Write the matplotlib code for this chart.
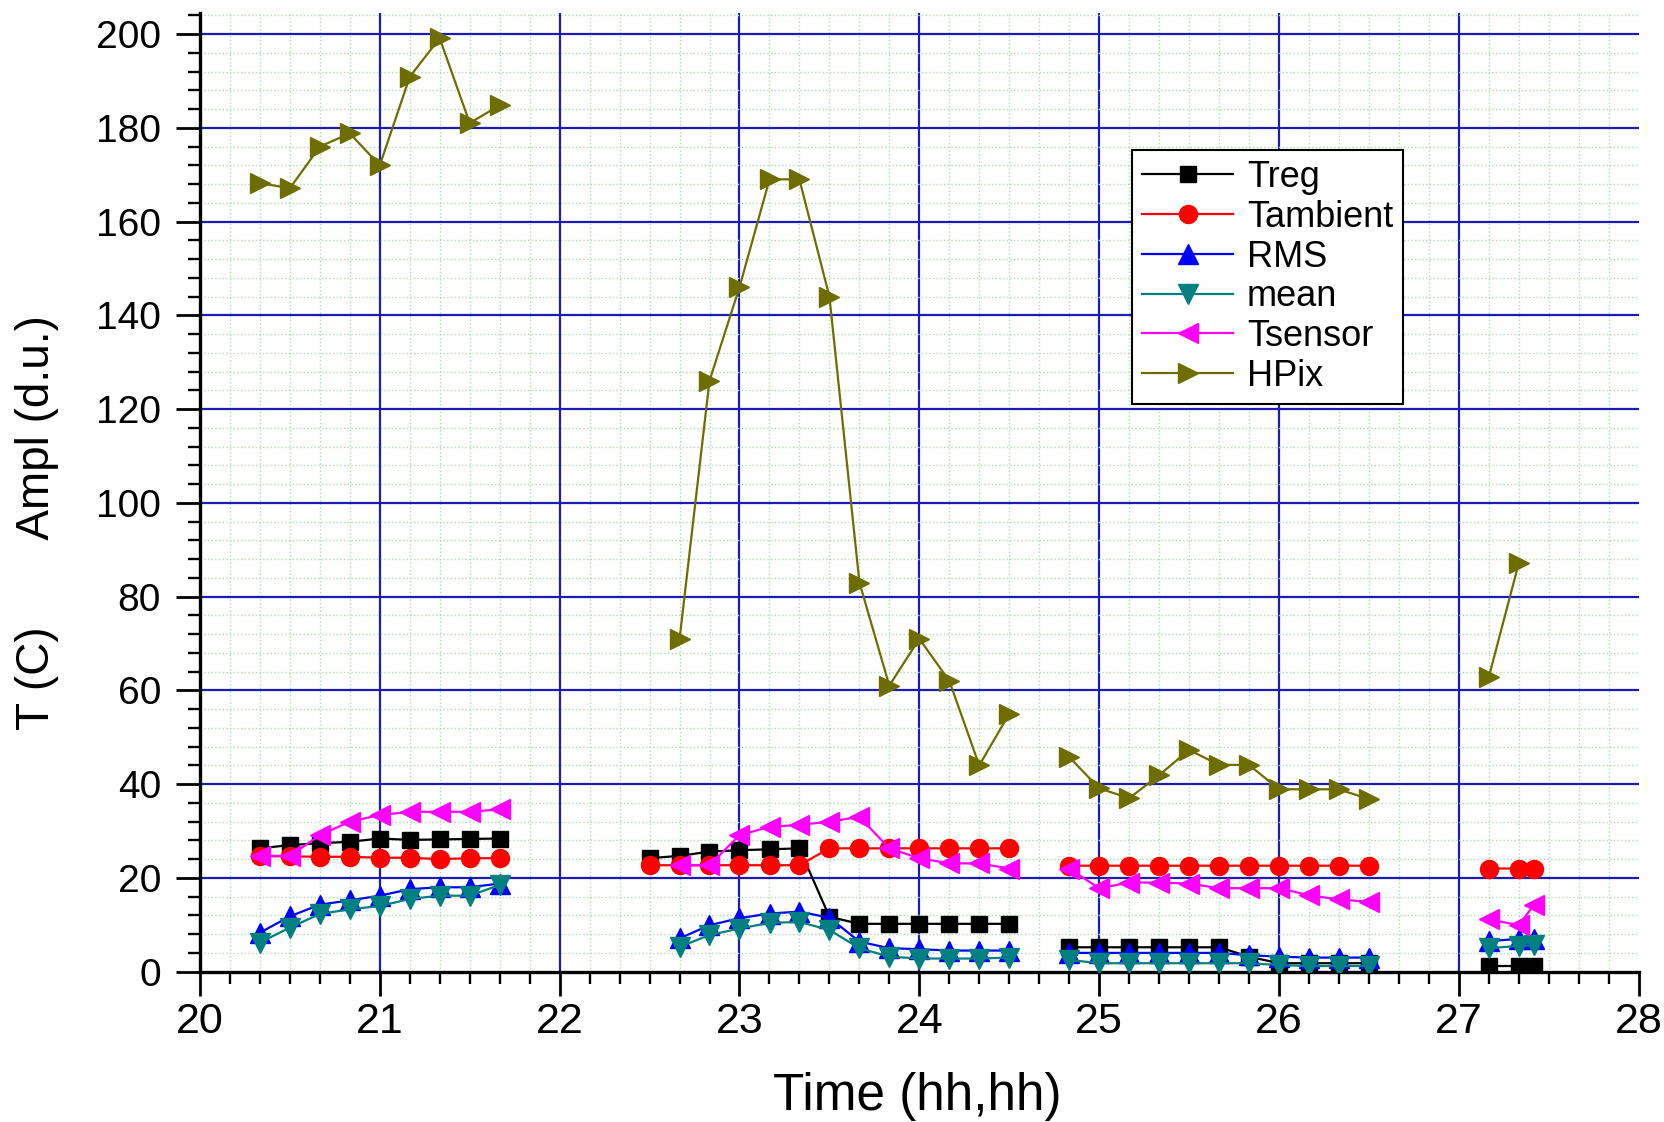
import numpy as np
import matplotlib
matplotlib.use("Agg")
import matplotlib.pyplot as plt
from matplotlib.ticker import MultipleLocator

plt.rcParams['font.family'] = ['Liberation Sans', 'DejaVu Sans']

# time in hours, None separates the measurement runs
time = [20.333, 20.5, 20.667, 20.833, 21.0, 21.167, 21.333, 21.5, 21.667, None,
        22.5, 22.667, 22.833, 23.0, 23.167, 23.333, 23.5, 23.667, 23.833, 24.0, 24.167, 24.333, 24.5, None,
        24.833, 25.0, 25.167, 25.333, 25.5, 25.667, 25.833, 26.0, 26.167, 26.333, 26.5, None,
        27.167, 27.333, 27.417]

treg = [26.3, 27.0, 27.4, 27.7, 28.4, 28.1, 28.2, 28.3, 28.4, None,
        24.2, 24.7, 25.6, 25.9, 26.1, 26.3, 11.7, 10.2, 10.2, 10.2, 10.2, 10.2, 10.2, None,
        5.2, 5.2, 5.2, 5.2, 5.2, 5.2, 3.2, 1.8, 1.8, 1.8, 1.8, None,
        1.2, 1.2, 1.2]

tambient = [24.6, 24.6, 24.5, 24.5, 24.3, 24.3, 24.0, 24.2, 24.2, None,
            22.7, 22.7, 22.7, 22.7, 22.7, 22.7, 26.3, 26.3, 26.3, 26.3, 26.3, 26.3, 26.3, None,
            22.6, 22.6, 22.6, 22.6, 22.6, 22.6, 22.6, 22.6, 22.6, 22.6, 22.6, None,
            22.0, 22.0, 22.0]

rms = [8.3, 11.8, 14.3, 15.2, 16.2, 17.6, 18.0, 18.0, 18.8, None,
       None, 7.1, 9.9, 11.4, 12.4, 12.8, 11.5, 6.4, 5.0, 4.8, 4.5, 4.5, 4.5, None,
       4.0, 4.0, 4.0, 4.0, 4.0, 4.0, 3.5, 3.2, 3.0, 3.0, 3.0, None,
       6.5, 7.0, 7.0]

mean = [6.2, 9.4, 12.3, 13.3, 14.0, 15.5, 16.2, 16.2, 18.5, None,
        None, 5.3, 7.8, 9.2, 10.4, 10.6, 8.9, 5.0, 3.2, 2.8, 2.8, 2.8, 3.0, None,
        2.5, 1.8, 1.8, 1.8, 1.8, 1.8, 1.8, 1.4, 1.2, 1.2, 1.2, None,
        5.0, 5.5, 5.6]

tsensor = [24.7, 24.7, 29.1, 32.0, 33.4, 34.1, 34.1, 34.1, 34.6, None,
           None, 22.7, 22.7, 29.1, 30.9, 31.3, 32.0, 33.0, 26.3, 24.2, 23.1, 23.1, 22.0, None,
           22.0, 17.8, 19.0, 19.0, 18.8, 17.8, 17.8, 17.8, 16.3, 15.4, 14.9, None,
           11.2, 9.9, 14.2]

hpix = [168.2, 167.1, 176.0, 178.8, 172.0, 190.9, 199.1, 181.0, 184.8, None,
        None, 71, 126, 146, 169, 169, 144, 83, 61, 71, 62, 44, 55, None,
        45.8, 39.1, 37.0, 41.9, 47.3, 44.1, 44.1, 38.9, 38.9, 38.9, 36.8, None,
        62.9, 87.1, None]

series = [("Treg", treg, "black", "s", 11),
          ("Tambient", tambient, "#ff0000", "o", 13),
          ("RMS", rms, "#0000ff", "^", 14),
          ("mean", mean, "#008080", "v", 14),
          ("Tsensor", tsensor, "#ff00ff", "<", 14),
          ("HPix", hpix, "#6e6e00", ">", 14)]

t = np.array(time, dtype=float)

fig = plt.figure(figsize=(16.65, 11.22), dpi=100)
ax = fig.add_axes([0.1201, 0.134, 0.8641, 0.8545])

for name, vals, col, mk, ms in series:
    y = np.array(vals, dtype=float)
    ax.plot(t, y, color=col, marker=mk, markersize=ms, markerfacecolor=col,
            markeredgecolor=col, linewidth=1.6, label=name, zorder=3)

ax.set_xlim(20, 28)
ax.set_ylim(0, 204.5)
ax.xaxis.set_major_locator(MultipleLocator(1))
ax.xaxis.set_minor_locator(MultipleLocator(1 / 6))
ax.yaxis.set_major_locator(MultipleLocator(20))
ax.yaxis.set_minor_locator(MultipleLocator(4))

ax.grid(which='minor', color='#b0dcb0', linestyle=':', linewidth=1.0, zorder=0)
ax.grid(which='major', color='#1c1cb4', linestyle='-', linewidth=1.6, zorder=1)
ax.set_axisbelow(True)
fig.canvas.draw()
for gl, v in zip(ax.xaxis.get_gridlines(), ax.get_xticks()):
    if v <= 20 or v >= 28:
        gl.set_visible(False)
for gl, v in zip(ax.yaxis.get_gridlines(), ax.get_yticks()):
    if v <= 0:
        gl.set_visible(False)

for s in ['top', 'right']:
    ax.spines[s].set_visible(False)
for s in ['left', 'bottom']:
    ax.spines[s].set_linewidth(2.4)

ax.tick_params(which='major', direction='out', length=17, width=2.0, labelsize=28)
ax.tick_params(which='minor', direction='out', length=8.5, width=1.7)
ax.tick_params(axis='y', which='major', pad=11)
ax.tick_params(axis='x', which='major', pad=5, labelsize=31)

fig.text(0.551, 0.023, "Time (hh,hh)", fontsize=37, ha='center', va='center')
fig.text(0.022, 0.534, "T (C)       Ampl (d.u.)", fontsize=33, rotation=90,
         ha='center', va='center')

leg = ax.legend(loc='upper left', bbox_to_anchor=(0.648, 0.857), borderaxespad=0,
                fontsize=26, handlelength=2.5, labelspacing=0.13, fancybox=False,
                framealpha=1, edgecolor='black', borderpad=0.28, handletextpad=0.4)
leg.get_frame().set_linewidth(1.5)

fig.savefig("out.png", dpi=100)
